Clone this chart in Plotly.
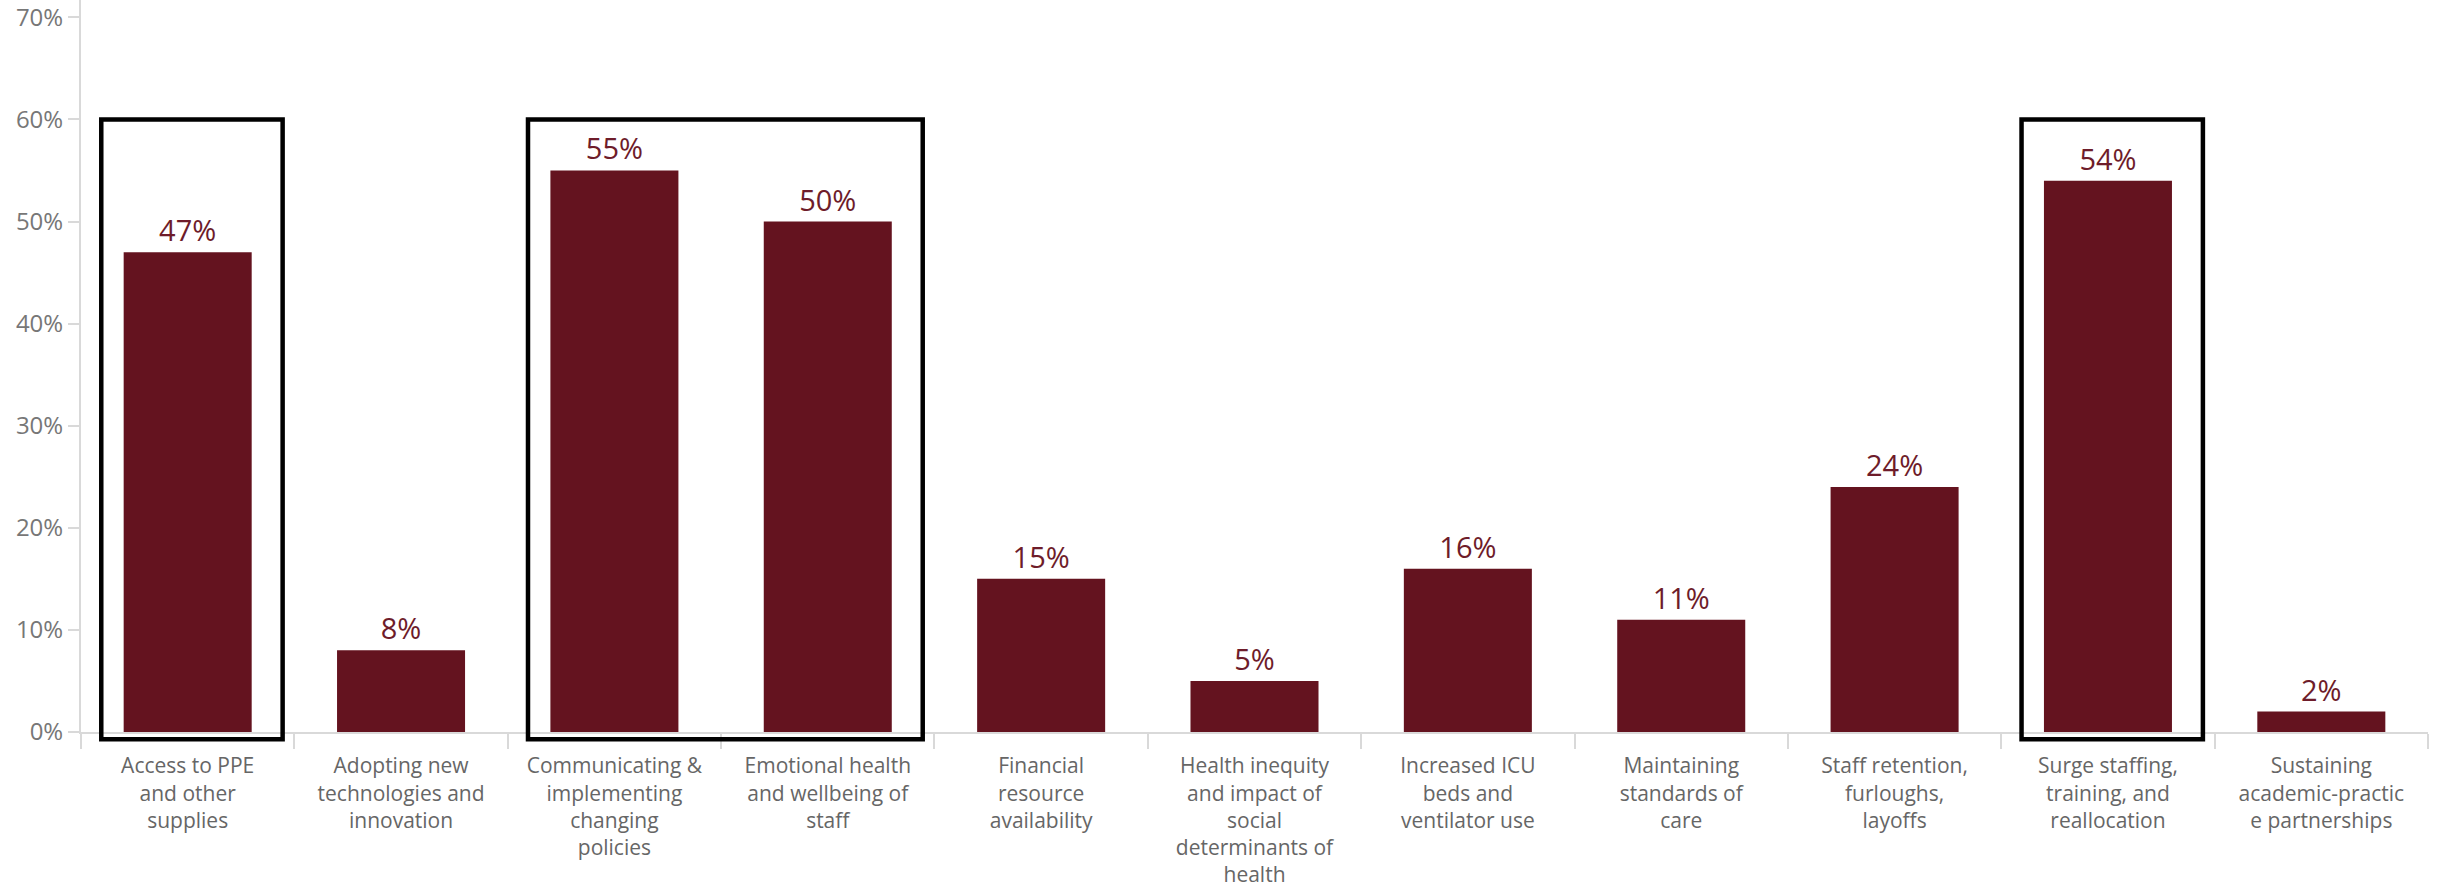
import plotly.graph_objects as go

# Share of respondents naming each challenge
categories = [
    "Access to PPE<br>and other<br>supplies",
    "Adopting new<br>technologies and<br>innovation",
    "Communicating &<br>implementing<br>changing<br>policies",
    "Emotional health<br>and wellbeing of<br>staff",
    "Financial<br>resource<br>availability",
    "Health inequity<br>and impact of<br>social<br>determinants of<br>health",
    "Increased ICU<br>beds and<br>ventilator use",
    "Maintaining<br>standards of<br>care",
    "Staff retention,<br>furloughs,<br>layoffs",
    "Surge staffing,<br>training, and<br>reallocation",
    "Sustaining<br>academic-practic<br>e partnerships",
]
values = [47, 8, 55, 50, 15, 5, 16, 11, 24, 54, 2]

y_ticks = [0, 10, 20, 30, 40, 50, 60, 70]
y_tick_labels = [f"{v}%" for v in y_ticks]

# Groups of neighbouring categories outlined with a frame (first, last index)
highlight_groups = [(0, 0), (2, 3), (9, 9)]
frame_top = 60

BAR_COLOR = "#64131f"
LABEL_COLOR = "#6e1c2a"
AXIS_COLOR = "#d9d9d9"
Y_MAX = 71.7

fig = go.Figure(
    go.Bar(
        x=categories,
        y=values,
        marker=dict(color=BAR_COLOR, line=dict(width=0)),
        text=[f"{v}%" for v in values],
        textposition="outside",
        textfont=dict(family="Open Sans", size=29, color=LABEL_COLOR),
        cliponaxis=False,
        hoverinfo="skip",
    )
)

n = len(categories)


def x_paper(idx):
    return (idx + 0.5) / n


def y_paper(val):
    return val / Y_MAX


for first, last in highlight_groups:
    fig.add_shape(
        type="rect",
        xref="paper",
        yref="paper",
        x0=x_paper(first - 0.405),
        x1=x_paper(last + 0.445),
        y0=y_paper(-0.7),
        y1=y_paper(frame_top),
        line=dict(color="black", width=4.5),
        fillcolor="rgba(0,0,0,0)",
        layer="above",
    )

fig.update_layout(
    width=2440,
    height=891,
    margin=dict(l=81, r=12, t=0, b=159),
    plot_bgcolor="white",
    paper_bgcolor="white",
    bargap=0.4,
    showlegend=False,
    font=dict(family="Open Sans", color="#6b6b6b"),
)

fig.update_xaxes(
    type="category",
    range=[-0.5, n - 0.5],
    showline=True,
    linecolor=AXIS_COLOR,
    linewidth=2,
    ticks="outside",
    tickson="boundaries",
    ticklen=15,
    tickwidth=1.5,
    tickcolor=AXIS_COLOR,
    ticklabelstandoff=14,
    tickfont=dict(family="Open Sans", size=21, color="#666666"),
    tickangle=0,
    showgrid=False,
    automargin=False,
)

fig.update_yaxes(
    range=[0, Y_MAX],
    tickvals=y_ticks,
    ticktext=y_tick_labels,
    showline=True,
    linecolor=AXIS_COLOR,
    linewidth=2,
    ticks="outside",
    ticklen=11,
    tickwidth=1.5,
    tickcolor=AXIS_COLOR,
    ticklabeloverflow="allow",
    tickfont=dict(family="Open Sans", size=24, color="#777777"),
    showgrid=False,
    zeroline=False,
    automargin=False,
)

fig.write_html("out.html")
